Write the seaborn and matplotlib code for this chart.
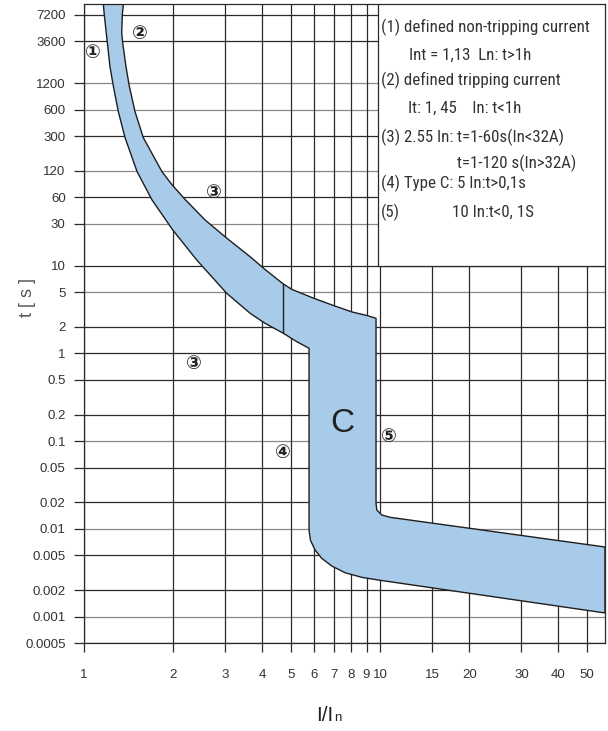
import matplotlib
matplotlib.use("Agg")
import numpy as np
import pandas as pd
import matplotlib.pyplot as plt
import seaborn as sns
from matplotlib import font_manager
from matplotlib.patches import Rectangle
from matplotlib.ticker import FixedLocator, NullLocator, FixedFormatter

# ---------------- data ----------------
x_ticks = [1, 2, 3, 4, 5, 6, 7, 8, 9, 10, 15, 20, 30, 40, 50]
x_tick_labels = ["1", "2", "3", "4", "5", "6", "7", "8", "9", "10", "15", "20", "30", "40", "50"]
y_ticks = [7200, 3600, 1200, 600, 300, 120, 60, 30, 10, 5, 2, 1, 0.5, 0.2, 0.1,
           0.05, 0.02, 0.01, 0.005, 0.002, 0.001, 0.0005]
y_tick_labels = ["7200", "3600", "1200", "600", "300", "120", "60", "30", "10", "5", "2",
                 "1", "0.5", "0.2", "0.1", "0.05", "0.02", "0.01", "0.005", "0.002",
                 "0.001", "0.0005"]
y_gray_lines = [1200, 600, 120, 30, 5, 0.1, 0.01, 0.001]

# tripping (upper / right) boundary of the C band
upper_I = [1.358, 1.347, 1.341, 1.351, 1.386, 1.422, 1.487, 1.586, 1.834, 1.985, 2.203,
           2.563, 3.018, 3.638, 4.088, 4.713, 5.043, 5.937, 6.954, 8.04, 9.02, 9.69,
           9.69, 9.75, 10.13, 10.81, 57.5]
upper_t = [9600, 7200, 4488, 3480, 1854, 1117, 569, 287.5, 117.8, 83.1, 56.1,
           33.2, 20.9, 12.66, 9.04, 6.18, 5.35, 4.28, 3.516, 2.964, 2.704, 2.512,
           0.01956, 0.0164, 0.01439, 0.01354, 0.00621]
# non-tripping (lower / left) boundary of the C band
lower_I = [1.162, 1.171, 1.199, 1.224, 1.256, 1.306, 1.376, 1.511, 1.697, 1.994, 2.403,
           3.034, 3.638, 4.088, 4.713, 5.232, 5.755, 5.755, 5.815, 6.03, 6.35, 6.87,
           7.62, 8.68, 9.87, 57.5]
lower_t = [9600, 7200, 3480, 1854, 1117, 569, 287.5, 117.8, 56.1, 25.5, 11.6,
           4.84, 2.866, 2.203, 1.695, 1.359, 1.143, 0.0097, 0.00746, 0.00574, 0.00462,
           0.00377, 0.00316, 0.0028, 0.00261, 0.0011]
divider_I = [4.713, 4.713]
divider_t = [1.695, 6.18]

x_limits = [1, 57.5]
y_limits = [0.0005, 9600]

marker_labels = ["\u2460", "\u2461", "\u2462", "\u2462", "\u2463", "\u2464"]
marker_I = [1.073, 1.546, 2.75, 2.34, 4.70, 10.72]
marker_t = [2655, 4370, 69, 0.774, 0.0748, 0.114]

legend_lines = ["(1) defined non-tripping current",
                "Int = 1,13  Ln: t>1h",
                "(2) defined tripping current",
                "It: 1, 45    In: t<1h",
                "(3) 2.55 In: t=1-60s(In<32A)",
                "t=1-120 s(In>32A)",
                "(4) Type C: 5 In:t>0,1s",
                "(5)",
                "10 In:t<0, 1S"]
legend_x = [0.570, 0.624, 0.570, 0.622, 0.570, 0.716, 0.570, 0.570, 0.706]
legend_y = [0.964, 0.920, 0.880, 0.837, 0.792, 0.751, 0.720, 0.674, 0.674]

# ---------------- style ----------------
sns.set_theme(style="white")
names = {f.name for f in font_manager.fontManager.ttflist}
base_font = "Liberation Sans" if "Liberation Sans" in names else "DejaVu Sans"
narrow_font = None
for cand in ["Liberation Sans Narrow", "Roboto Condensed", "Open Sans Condensed", "DejaVu Sans Condensed"]:
    if cand in names:
        narrow_font = cand
        break
plt.rcParams["font.family"] = [base_font, "DejaVu Sans", "Noto Sans CJK JP"]

dark = "#2a2a2a"
gray = "#8a8a8a"
band_color = "#a9cbea"

fig = plt.figure(figsize=(6.08, 7.31), dpi=100)
ax = fig.add_axes([84 / 608, 1 - 643 / 731, 521 / 608, 639 / 731])
ax.set_xscale("log")
ax.set_yscale("log")
ax.set_xlim(*x_limits)
ax.set_ylim(*y_limits)

# grid lines
for v in y_ticks:
    ax.axhline(v, color=gray if v in y_gray_lines else dark, lw=0.9, zorder=1)
for v in x_ticks:
    ax.axvline(v, color=dark, lw=0.9, zorder=1)

# band
poly_I = upper_I + lower_I[::-1]
poly_t = upper_t + lower_t[::-1]
ax.fill(poly_I, poly_t, facecolor=band_color, edgecolor="none", zorder=2)
edges = pd.DataFrame({"I": poly_I + [poly_I[0]], "t": poly_t + [poly_t[0]]})
sns.lineplot(data=edges, x="I", y="t", sort=False, estimator=None, color="#1e1e1e",
             lw=1.0, ax=ax, zorder=3)
div = pd.DataFrame({"I": divider_I, "t": divider_t})
sns.lineplot(data=div, x="I", y="t", sort=False, estimator=None, color="#1e1e1e",
             lw=1.0, ax=ax, zorder=3)

# legend box
ax.add_patch(Rectangle((9.85, 10), x_limits[1] - 9.85, y_limits[1] - 10,
                       facecolor="white", edgecolor=dark, lw=0.9, zorder=4))
tkw = dict(fontsize=12.2, color="#333333", va="center", ha="left",
           transform=ax.transAxes, zorder=5)
if narrow_font:
    tkw["family"] = [narrow_font, "DejaVu Sans"]
else:
    tkw["family"] = ["DejaVu Sans"]
    tkw["fontstretch"] = "condensed"
for s, lx, ly in zip(legend_lines, legend_x, legend_y):
    ax.text(lx, ly, s, **tkw)

# circled markers
for s, mi, mt in zip(marker_labels, marker_I, marker_t):
    ax.text(mi, mt, s, fontsize=13.5, fontweight="bold", ha="center", va="center",
            color="#222222", family=["DejaVu Sans", "Noto Sans CJK JP"], zorder=5)
ax.text(7.44, 0.160, "C", fontsize=24, ha="center", va="center", color="#222222", zorder=5)

# ticks
ax.xaxis.set_major_locator(FixedLocator(x_ticks))
ax.xaxis.set_major_formatter(FixedFormatter(x_tick_labels))
ax.xaxis.set_minor_locator(NullLocator())
ax.yaxis.set_major_locator(FixedLocator(y_ticks))
ax.yaxis.set_major_formatter(FixedFormatter(y_tick_labels))
ax.yaxis.set_minor_locator(NullLocator())
ax.tick_params(axis="y", direction="out", length=7.2, width=0.9, color=dark, pad=6,
               labelsize=9.5, labelcolor="#333333", left=True)
ax.tick_params(axis="x", direction="out", length=6.5, width=0.9, color=dark, pad=12,
               labelsize=9.5, labelcolor="#333333", bottom=True)
for sp in ax.spines.values():
    sp.set_color(dark)
    sp.set_linewidth(0.9)
ax.grid(False)

ax.set_ylabel("t [ s ]", fontsize=13, color="#555555")
ax.yaxis.set_label_coords(-0.093, 0.54)
ax.set_xlabel("")
ax.text(0.478, -0.122, "I/I", fontsize=15, ha="right", va="baseline", color="#222222",
        transform=ax.transAxes)
ax.text(0.481, -0.122, "n", fontsize=9.5, ha="left", va="baseline", color="#222222",
        transform=ax.transAxes)

fig.savefig("out.png", dpi=100, facecolor="white")
